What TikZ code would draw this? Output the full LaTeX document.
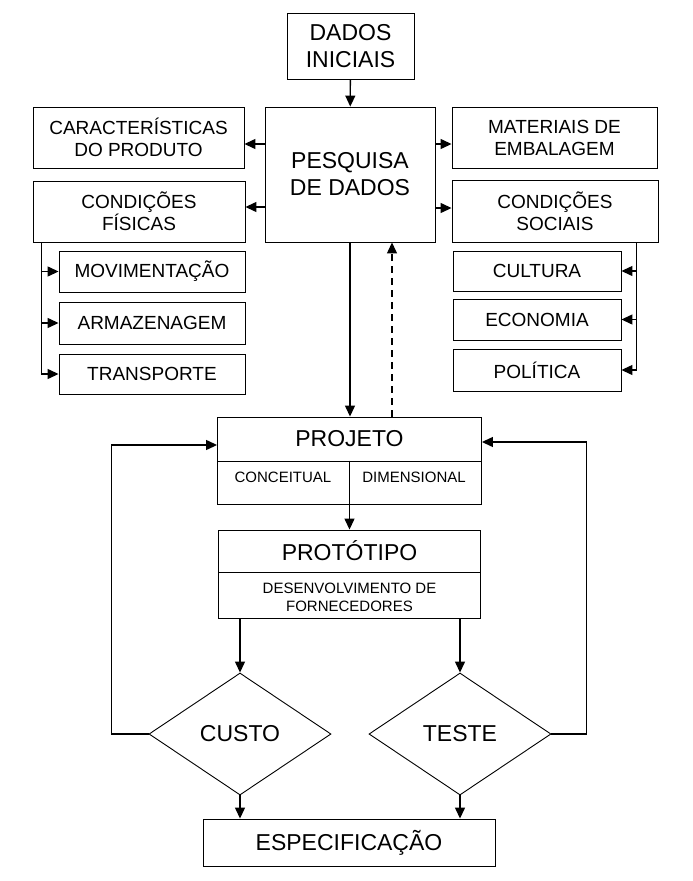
\documentclass[tikz,border=0pt]{standalone}
\usepackage{fontspec}
\setmainfont{Liberation Sans}
\usetikzlibrary{arrows.meta, shapes.geometric}
\newcommand{\fbig}{\fontsize{23}{27}\selectfont}
\newcommand{\fmid}{\fontsize{19}{22}\selectfont}
\newcommand{\fsmall}{\fontsize{15}{18}\selectfont}

\begin{document}
\begin{tikzpicture}[x=1pt,y=-1pt,
    box/.style={draw, line width=0.9pt, inner sep=0pt, align=center},
    lbl/.style={inner sep=0pt, align=center},
    arr/.style={line width=1.3pt, -{Triangle[length=11pt,width=10pt]}}]
  \useasboundingbox (0,0) rectangle (693,881);
  % top of the chart
  \node[box, minimum width=127pt, minimum height=66pt, font=\fbig] (dados) at (350.5,46) {DADOS\\INICIAIS};
  \node[box, minimum width=170pt, minimum height=135pt, font=\fbig] (pesquisa) at (350,174.5) {PESQUISA\\DE DADOS};
  % left column
  \node[box, minimum width=211pt, minimum height=61pt, font=\fmid] (caract) at (138.5,137.5) {CARACTERÍSTICAS\\DO PRODUTO};
  \node[box, minimum width=212pt, minimum height=61pt, font=\fmid] (fisicas) at (139,211.5) {CONDIÇÕES\\FÍSICAS};
  \node[box, minimum width=186pt, minimum height=41pt, font=\fmid] (movim) at (152,271.5) {MOVIMENTAÇÃO};
  \node[box, minimum width=186pt, minimum height=42pt, font=\fmid] (armaz) at (152,323) {ARMAZENAGEM};
  \node[box, minimum width=186pt, minimum height=40pt, font=\fmid] (transp) at (152,374) {TRANSPORTE};
  % right column
  \node[box, minimum width=205pt, minimum height=61pt, font=\fmid] (materiais) at (554.5,137.5) {MATERIAIS DE\\EMBALAGEM};
  \node[box, minimum width=206pt, minimum height=62pt, font=\fmid] (sociais) at (555,211) {CONDIÇÕES\\SOCIAIS};
  \node[box, minimum width=168pt, minimum height=40pt, font=\fmid] (cultura) at (537,271) {CULTURA};
  \node[box, minimum width=168pt, minimum height=41pt, font=\fmid] (economia) at (537,319.5) {ECONOMIA};
  \node[box, minimum width=168pt, minimum height=42pt, font=\fmid] (politica) at (537,370) {POLÍTICA};
  % projeto
  \node[box, minimum width=264pt, minimum height=44pt, font=\fbig] (projeto) at (349.5,439) {PROJETO};
  \node[box, minimum width=264pt, minimum height=43pt] (projsub) at (349.5,482.5) {};
  \node[lbl, font=\fsmall] (conceitual) at (283,477) {CONCEITUAL};
  \node[lbl, font=\fsmall] (dimensional) at (414,477) {DIMENSIONAL};
  \draw[line width=0.9pt] (projsub.north) -- (projsub.south);
  % prototipo
  \node[box, minimum width=262pt, minimum height=42pt, font=\fbig] (prototipo) at (349.5,551) {PROTÓTIPO};
  \node[box, minimum width=262pt, minimum height=46pt] (protsub) at (349.5,595) {};
  \node[lbl, font=\fsmall] (fornec) at (349.5,597) {DESENVOLVIMENTO DE\\FORNECEDORES};
  % decisions
  \node[diamond, draw, line width=0.9pt, inner sep=0pt, minimum width=182pt, minimum height=122pt, font=\fbig] (custo) at (240,734) {CUSTO};
  \node[diamond, draw, line width=0.9pt, inner sep=0pt, minimum width=182pt, minimum height=122pt, font=\fbig] (teste) at (460,734) {TESTE};
  \node[box, minimum width=292pt, minimum height=47pt, font=\fbig] (espec) at (349,842.5) {ESPECIFICAÇÃO};
  % connectors
  \draw[arr] (dados) -- (pesquisa);
  \draw[arr] (pesquisa.west |- 0,144) -- (caract.east |- 0,144);
  \draw[arr] (pesquisa.west |- 0,207) -- (fisicas.east |- 0,207);
  \draw[arr] (pesquisa.east |- 0,144) -- (materiais.west |- 0,144);
  \draw[arr] (pesquisa.east |- 0,208) -- (sociais.west |- 0,208);
  % branches
  \coordinate (fbus) at ([xshift=9pt]fisicas.south west);
  \draw[arr] (fbus) |- (transp.west);
  \foreach \n in {movim, armaz}
    \draw[arr] (fbus |- \n.west) -- (\n.west);
  \coordinate (sbus) at ([xshift=-22pt]sociais.south east);
  \draw[arr] (sbus) |- (politica.east);
  \foreach \n in {cultura, economia}
    \draw[arr] (sbus |- \n.east) -- (\n.east);
  % main flow
  \draw[arr] (pesquisa.south) -- (pesquisa.south |- projeto.north);
  \draw[arr, dash pattern=on 7pt off 5pt] ([xshift=42.5pt]projeto.north) -- ([xshift=42.5pt]projeto.north |- pesquisa.south);
  \draw[arr] (projsub.south) -- (prototipo.north);
  \draw[arr] (custo.north |- protsub.south) -- (custo.north);
  \draw[arr] (teste.north |- protsub.south) -- (teste.north);
  \draw[arr] (custo.south) -- (custo.south |- espec.north);
  \draw[arr] (teste.south) -- (teste.south |- espec.north);
  % feedback loops
  \draw[arr] (custo.west) -- ++(-37,0) |- ([yshift=-6pt]projeto.west);
  \draw[arr] (teste.east) -- ++(35,0) |- ([yshift=-3pt]projeto.east);
\end{tikzpicture}
\end{document}
